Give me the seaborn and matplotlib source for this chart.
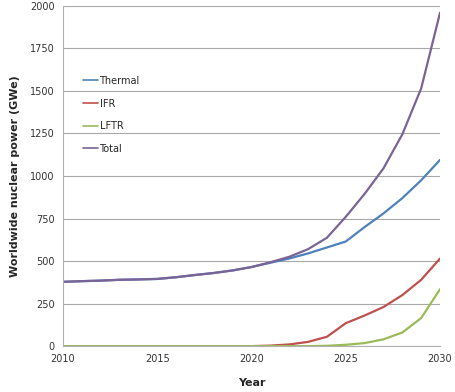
import pandas as pd
import numpy as np
import matplotlib.pyplot as plt
import seaborn as sns

# data
years = list(range(2010, 2031))
thermal = [378, 382, 385, 390, 392, 395, 405, 418, 430, 445, 465,
           490, 515, 545, 580, 615, 700, 780, 870, 975, 1095]
ifr = [0, 0, 0, 0, 0, 0, 0, 0, 0, 0, 0,
       3, 10, 25, 55, 135, 180, 230, 300, 390, 515]
lftr = [0, 0, 0, 0, 0, 0, 0, 0, 0, 0, 0,
        0, 0, 0, 2, 8, 18, 40, 80, 165, 335]
total = [378, 382, 385, 390, 392, 395, 405, 418, 430, 445, 465,
         493, 525, 570, 637, 760, 895, 1045, 1245, 1515, 1960]

series = ['Thermal', 'IFR', 'LFTR', 'Total']
colors = ['#4F81BD', '#C0504D', '#9BBB59', '#7A6496']

df = pd.DataFrame({'Year': years, 'Thermal': thermal, 'IFR': ifr,
                   'LFTR': lftr, 'Total': total})
long = df.melt(id_vars='Year', var_name='Series', value_name='GWe')

sns.set_style('white')
plt.rcParams['font.family'] = ['DejaVu Sans']

fig = plt.figure(figsize=(4.56, 3.92), dpi=100)
ax = fig.add_axes([0.138, 0.117, 0.827, 0.868])

sns.lineplot(data=long, x='Year', y='GWe', hue='Series', hue_order=series,
             palette=colors, linewidth=1.6, ax=ax)

ax.set_xlim(2010, 2030)
ax.set_ylim(0, 2000)
ax.set_xticks(range(2010, 2031, 5))
ax.set_yticks(range(0, 2001, 250))
ax.tick_params(labelsize=7, colors='#333333', length=0, pad=6)
ax.grid(axis='y', color='#a8a8a8', linewidth=0.8)
ax.set_axisbelow(True)
for s in ['top', 'right']:
    ax.spines[s].set_visible(False)
for s in ['left', 'bottom']:
    ax.spines[s].set_color('#b0b0b0')

ax.set_xlabel('Year', fontsize=8, fontweight='bold')
ax.xaxis.set_label_coords(0.5, -0.095)
ax.set_ylabel('Worldwide nuclear power (GWe)', fontsize=8, fontweight='bold')
ax.yaxis.set_label_coords(-0.115, 0.5)

leg = ax.legend(loc='upper left', bbox_to_anchor=(0.03, 0.82), frameon=False,
                fontsize=7, handlelength=1.5, handletextpad=0.2, labelspacing=1.3)
for line in leg.get_lines():
    line.set_linewidth(1.2)

fig.savefig('out.png', dpi=100)
